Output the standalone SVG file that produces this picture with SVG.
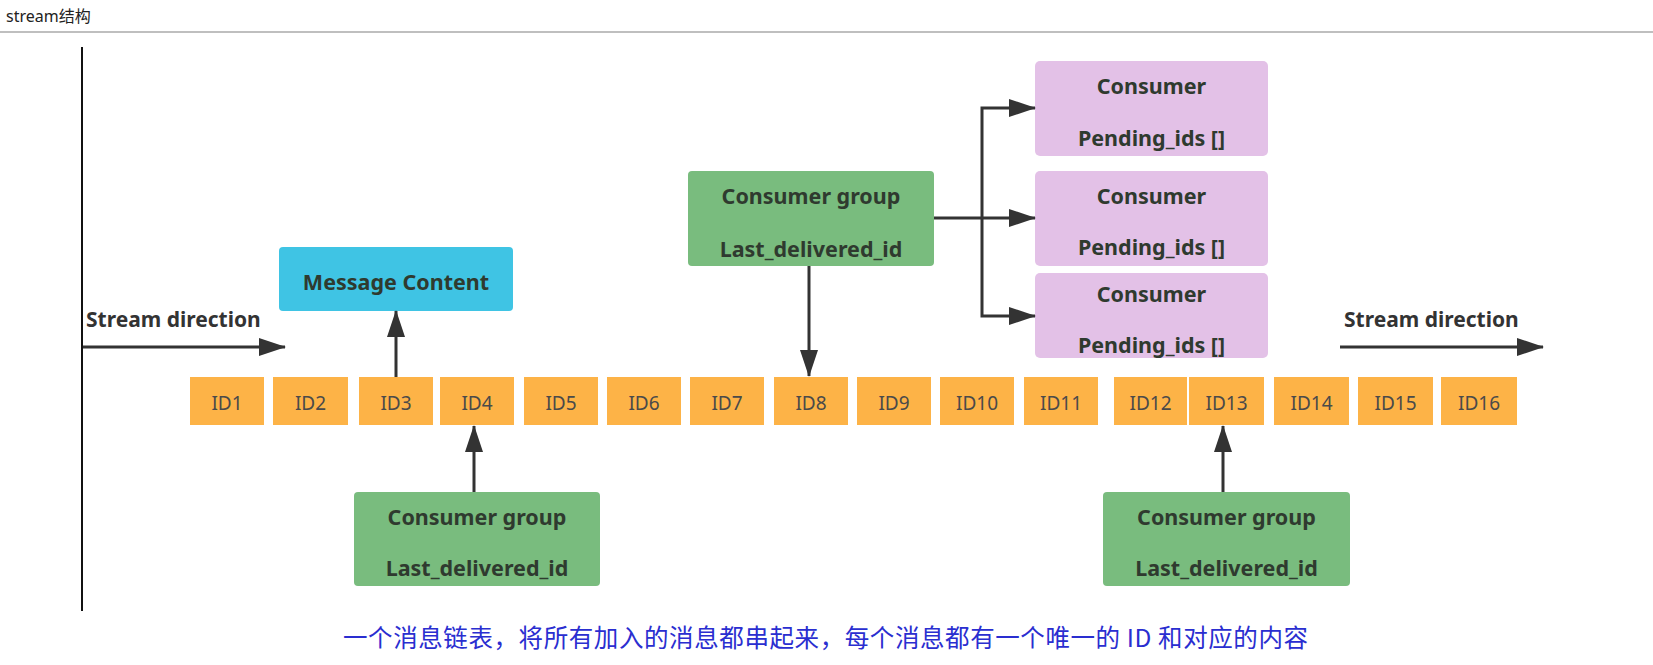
<svg xmlns="http://www.w3.org/2000/svg" width="1653" height="665" viewBox="0 0 1653 665">
<style>
.hdr{font-family:"Noto Sans","Noto Sans CJK SC",sans-serif;font-size:16px;fill:#222}
.lbl{font-family:"Noto Sans",sans-serif;font-weight:bold;font-size:21px;fill:#333}
.idt{font-family:"Noto Sans",sans-serif;font-size:19px;fill:#4a4a4a;text-anchor:middle}
.bt{font-family:"Noto Sans",sans-serif;font-weight:bold;font-size:21.5px;fill:#2f3a2f;text-anchor:middle}
.idb{fill:#FDB347}
.grn{fill:#79BC7E}
.pur{fill:#E3C1E7}
.blu{fill:#3FC4E4}
.con{fill:none;stroke:#333;stroke-width:3}
.cap{font-family:"Noto Sans CJK SC","Noto Sans",sans-serif;font-size:24.5px;fill:#2A2ED0}
</style>
<defs>
<marker id="ah" markerUnits="userSpaceOnUse" markerWidth="27" markerHeight="18" refX="26" refY="9" orient="auto">
<path d="M0,0 L27,9 L0,18 z" fill="#333"/>
</marker>
</defs>
<rect width="1653" height="665" fill="#fff"/>
<text class="hdr" x="6" y="22">stream结构</text>
<line x1="0" y1="32" x2="1653" y2="32" stroke="#aaa" stroke-width="1.5"/>
<line x1="82" y1="47" x2="82" y2="611" stroke="#111" stroke-width="2"/>

<text class="lbl" x="86" y="327">Stream direction</text>
<text class="lbl" x="1344" y="327">Stream direction</text>

<g id="ids">
<g id="id1"><rect class="idb" x="190" y="377" width="74" height="48"/><text class="idt" x="227" y="410">ID1</text></g>
<g id="id2"><rect class="idb" x="273" y="377" width="75" height="48"/><text class="idt" x="310.5" y="410">ID2</text></g>
<g id="id3"><rect class="idb" x="359" y="377" width="74" height="48"/><text class="idt" x="396" y="410">ID3</text></g>
<g id="id4"><rect class="idb" x="440" y="377" width="74" height="48"/><text class="idt" x="477" y="410">ID4</text></g>
<g id="id5"><rect class="idb" x="524" y="377" width="74" height="48"/><text class="idt" x="561" y="410">ID5</text></g>
<g id="id6"><rect class="idb" x="607" y="377" width="74" height="48"/><text class="idt" x="644" y="410">ID6</text></g>
<g id="id7"><rect class="idb" x="690" y="377" width="74" height="48"/><text class="idt" x="727" y="410">ID7</text></g>
<g id="id8"><rect class="idb" x="774" y="377" width="74" height="48"/><text class="idt" x="811" y="410">ID8</text></g>
<g id="id9"><rect class="idb" x="857" y="377" width="74" height="48"/><text class="idt" x="894" y="410">ID9</text></g>
<g id="id10"><rect class="idb" x="940" y="377" width="74" height="48"/><text class="idt" x="977" y="410">ID10</text></g>
<g id="id11"><rect class="idb" x="1024" y="377" width="74" height="48"/><text class="idt" x="1061" y="410">ID11</text></g>
<g id="id12"><rect class="idb" x="1114" y="377" width="73" height="48"/><text class="idt" x="1150.5" y="410">ID12</text></g>
<g id="id13"><rect class="idb" x="1189" y="377" width="75" height="48"/><text class="idt" x="1226.5" y="410">ID13</text></g>
<g id="id14"><rect class="idb" x="1274" y="377" width="75" height="48"/><text class="idt" x="1311.5" y="410">ID14</text></g>
<g id="id15"><rect class="idb" x="1358" y="377" width="75" height="48"/><text class="idt" x="1395.5" y="410">ID15</text></g>
<g id="id16"><rect class="idb" x="1441" y="377" width="76" height="48"/><text class="idt" x="1479" y="410">ID16</text></g>
</g>

<g id="msg"><rect class="blu" x="279" y="247" width="234" height="64" rx="4"/><text class="bt" x="396" y="290">Message Content</text></g>

<g id="cg-top"><rect class="grn" x="688" y="171" width="246" height="95" rx="4"/><text class="bt" x="811" y="204">Consumer group</text><text class="bt" x="811" y="257">Last_delivered_id</text></g>
<g id="cg-left"><rect class="grn" x="354" y="492" width="246" height="94" rx="4"/><text class="bt" x="477" y="525">Consumer group</text><text class="bt" x="477" y="576">Last_delivered_id</text></g>
<g id="cg-right"><rect class="grn" x="1103" y="492" width="247" height="94" rx="4"/><text class="bt" x="1226.5" y="525">Consumer group</text><text class="bt" x="1226.5" y="576">Last_delivered_id</text></g>

<g id="c1"><rect class="pur" x="1035" y="61" width="233" height="95" rx="5"/><text class="bt" x="1151.5" y="94">Consumer</text><text class="bt" x="1151.5" y="146">Pending_ids []</text></g>
<g id="c2"><rect class="pur" x="1035" y="171" width="233" height="95" rx="5"/><text class="bt" x="1151.5" y="204">Consumer</text><text class="bt" x="1151.5" y="255">Pending_ids []</text></g>
<g id="c3"><rect class="pur" x="1035" y="273" width="233" height="85" rx="5"/><text class="bt" x="1151.5" y="302">Consumer</text><text class="bt" x="1151.5" y="353">Pending_ids []</text></g>

<g id="connectors">
<path class="con" d="M83,347 H285" marker-end="url(#ah)"/>
<path class="con" d="M1340,347 H1543" marker-end="url(#ah)"/>
<path class="con" d="M396,377 V311" marker-end="url(#ah)"/>
<path class="con" d="M474,492 V426" marker-end="url(#ah)"/>
<path class="con" d="M1223,492 V426" marker-end="url(#ah)"/>
<path class="con" d="M809,266 V376" marker-end="url(#ah)"/>
<path class="con" d="M934,218 H1035" marker-end="url(#ah)"/>
<path class="con" d="M982,218 V108 H1035" marker-end="url(#ah)"/>
<path class="con" d="M982,218 V316 H1035" marker-end="url(#ah)"/>
</g>

<text class="cap" x="343" y="647" textLength="965" lengthAdjust="spacing">一个消息链表，将所有加入的消息都串起来，每个消息都有一个唯一的 ID 和对应的内容</text>
</svg>
